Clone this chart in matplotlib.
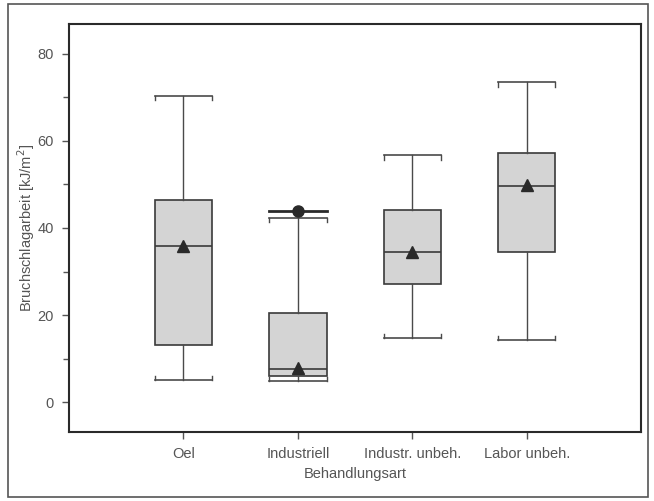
import numpy as np
import matplotlib.pyplot as plt
from matplotlib.patches import Rectangle

plt.rcParams['font.family'] = ['Liberation Sans', 'DejaVu Sans']

# Kennwerte je Behandlungsart
kategorien = ['Oel', 'Industriell', 'Industr. unbeh.', 'Labor unbeh.']
unten = [5.0, 4.8, 14.7, 14.3]        # Whisker unten
q1 = [13.2, 6.1, 27.1, 34.5]
median = [35.8, 7.7, 34.4, 49.7]
q3 = [46.5, 20.5, 44.1, 57.1]
oben = [70.3, 42.3, 56.7, 73.4]       # Whisker oben
mittel = [35.8, 7.9, 34.5, 49.8]
ausreisser = [[], [43.9], [], []]

stats = []
for i in range(len(kategorien)):
    stats.append(dict(label=kategorien[i], whislo=unten[i], q1=q1[i], med=median[i],
                      q3=q3[i], whishi=oben[i], mean=mittel[i], fliers=ausreisser[i]))

fig = plt.figure(figsize=(6.54, 5.01), dpi=100)
ax = fig.add_axes([0.1055, 0.138, 0.875, 0.814])

pos = np.arange(1, len(kategorien) + 1)
breite = 0.5
ax.bxp(stats, positions=pos, widths=breite, capwidths=breite, showmeans=True, patch_artist=True,
       boxprops=dict(facecolor='#d4d4d4', edgecolor='#3a3a3a', linewidth=1.2),
       medianprops=dict(color='#3a3a3a', linewidth=1.2),
       whiskerprops=dict(color='#4a4a4a', linewidth=1.0),
       capprops=dict(color='#4a4a4a', linewidth=1.2),
       meanprops=dict(marker='^', markerfacecolor='#2a2a2a', markeredgecolor='#2a2a2a', markersize=8.5),
       flierprops=dict(marker='o', markerfacecolor='#2a2a2a', markeredgecolor='#2a2a2a', markersize=8))

# kleine Endhaken an den Whisker-Kappen
d = 1.0
for i, p in enumerate(pos):
    for x in (p - breite / 2, p + breite / 2):
        ax.plot([x, x], [oben[i], oben[i] - d], color='#4a4a4a', lw=1.0)
        ax.plot([x, x], [unten[i], unten[i] + d], color='#4a4a4a', lw=1.0)
    # Linie auf Hoehe des Ausreissers
    for a in ausreisser[i]:
        ax.plot([p - breite / 2, p + breite / 2], [a, a], color='#2a2a2a', lw=2.0, zorder=1)

ax.set_xlim(0, 5)
ax.set_ylim(-6.8, 86.8)
ax.set_yticks([0, 20, 40, 60, 80])
ax.set_yticks([10, 30, 50, 70], minor=True)
ax.set_xticks(pos)
ax.set_xticklabels(kategorien)

for s in ax.spines.values():
    s.set_linewidth(1.5)
    s.set_color('#2a2a2a')
ax.tick_params(axis='both', which='major', direction='out', length=5, width=1,
               colors='#555555', labelsize=10.5, labelcolor='#555555', pad=6)
ax.tick_params(axis='y', which='minor', direction='out', length=4, width=1, colors='#555555')

ax.set_xlabel('Behandlungsart', fontsize=10.5, color='#555555', labelpad=4)
ax.set_ylabel('Bruchschlagarbeit [kJ/m$^2$]', fontsize=10.5, color='#555555', labelpad=0)

# Rahmen um die ganze Grafik
fig.patches.append(Rectangle((8 / 654, 4 / 501), 640 / 654, 493 / 501, transform=fig.transFigure,
                             fill=False, edgecolor='#555555', linewidth=1.2))

fig.savefig('out.png', dpi=100)
